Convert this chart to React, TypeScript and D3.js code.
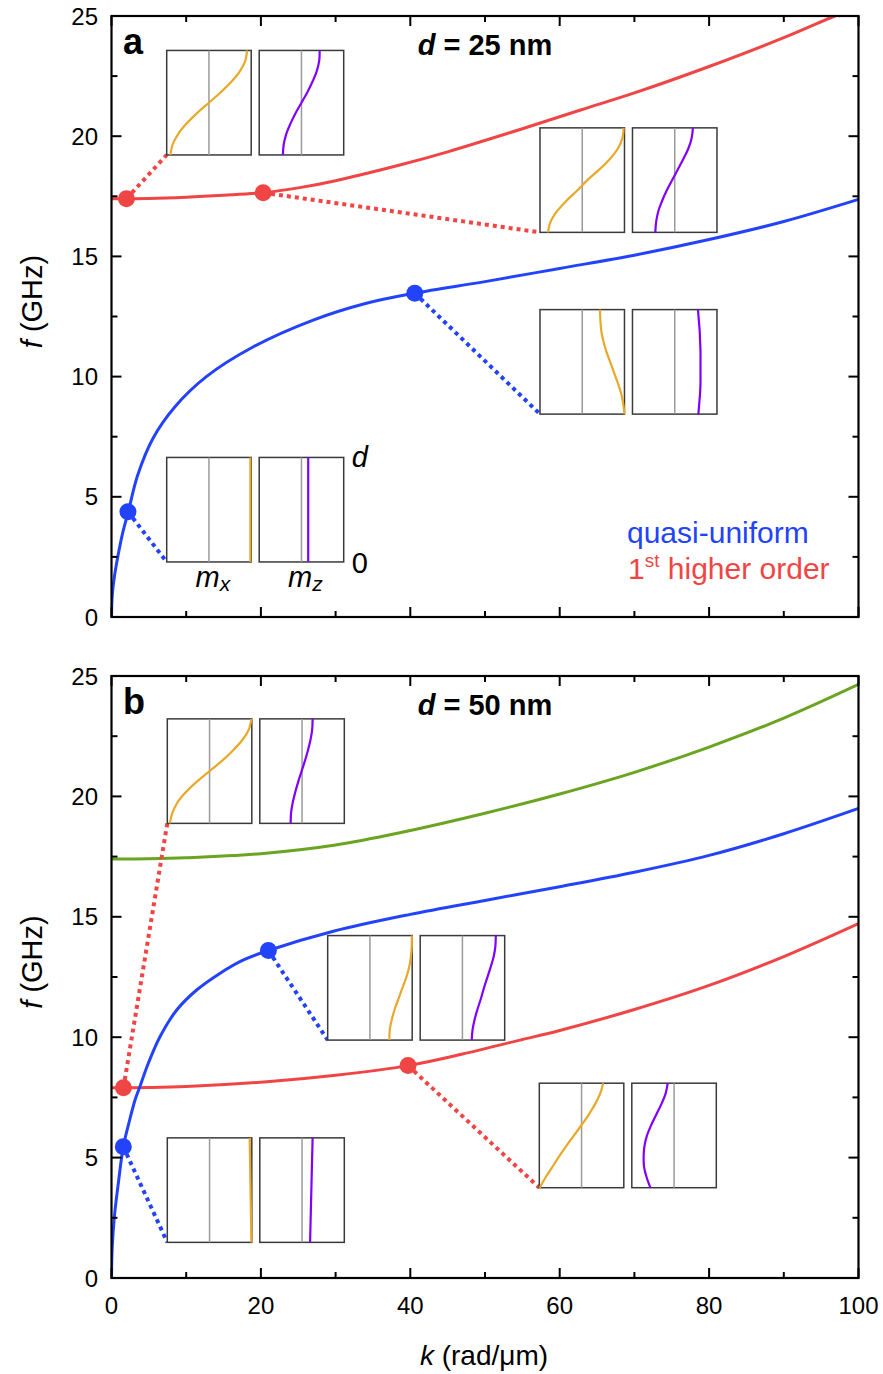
import React from 'react';
import * as d3 from 'd3';

const W = 883;
const H = 1374;

// ---------- data: panel a (d = 25 nm) ----------
const kBlueA = [0, 0.1, 0.4, 0.9, 1.5, 2.25, 3.5, 5.6, 8.5, 12.7, 19, 27, 34, 40.6, 50, 60, 70, 80, 90, 100];
const fBlueA = [0, 0.9, 1.7, 2.6, 3.5, 4.38, 5.9, 7.46, 8.75, 10.0, 11.24, 12.35, 13.04, 13.47, 13.95, 14.5, 15.05, 15.7, 16.45, 17.37];
const kRedA = [0, 5, 10, 15, 20.3, 25, 30, 38.6, 45, 54.7, 62.9, 70, 80, 90, 96.8, 100];
const fRedA = [17.4, 17.41, 17.46, 17.54, 17.65, 17.85, 18.15, 18.8, 19.35, 20.28, 21.1, 21.8, 22.9, 24.1, 25.0, 25.4];

// ---------- data: panel b (d = 50 nm) ----------
const kBlueB = [0, 0.1, 0.4, 0.9, 1.58, 2.3, 3.15, 3.72, 4.93, 6.49, 8.73, 11.4, 14.5, 17.6, 21, 29.7, 40, 50, 60, 70, 80, 90, 100];
const fBlueB = [0, 1.3, 2.6, 3.9, 5.45, 6.4, 7.39, 7.88, 8.92, 10.02, 11.13, 11.96, 12.65, 13.2, 13.6, 14.4, 15.1, 15.68, 16.25, 16.85, 17.55, 18.45, 19.5];
const kRedB = [0, 5, 10, 20.8, 30, 39.7, 47, 54.7, 60, 70, 80, 90, 100];
const fRedB = [7.9, 7.91, 7.95, 8.15, 8.42, 8.82, 9.3, 9.88, 10.28, 11.15, 12.15, 13.35, 14.72];
const kGreenB = [0, 5, 10, 20, 30, 38.6, 50, 60, 70, 80, 90, 100];
const fGreenB = [17.4, 17.41, 17.45, 17.62, 17.98, 18.49, 19.3, 20.1, 21.0, 22.05, 23.25, 24.65];

// marked points (k, f)
const markKA = [2.0, 20.3, 2.2, 40.6];
const markFA = [17.4, 17.65, 4.38, 13.47];
const markKB = [1.6, 39.7, 1.58, 21];
const markFB = [7.9, 8.82, 5.45, 13.6];

// mode profiles, sampled at z/d = 0, 0.1, ..., 1 (values relative to box half-width)
const zLevels = [0, 0.1, 0.2, 0.3, 0.4, 0.5, 0.6, 0.7, 0.8, 0.9, 1.0];
const mxA1 = [-0.91, -0.86, -0.73, -0.53, -0.28, 0.0, 0.28, 0.53, 0.73, 0.86, 0.9];
const mzA1 = [-0.44, -0.42, -0.36, -0.26, -0.14, 0.0, 0.14, 0.26, 0.36, 0.42, 0.43];
const mxA2 = [-0.81, -0.75, -0.6, -0.38, -0.12, 0.12, 0.4, 0.65, 0.84, 0.95, 0.98];
const mzA2 = [-0.46, -0.44, -0.39, -0.3, -0.19, -0.06, 0.07, 0.2, 0.32, 0.4, 0.43];
const mxA3 = [1.0, 0.97, 0.92, 0.84, 0.75, 0.66, 0.57, 0.5, 0.45, 0.43, 0.42];
const mzA3 = [0.56, 0.58, 0.6, 0.61, 0.61, 0.61, 0.61, 0.6, 0.59, 0.57, 0.55];
const mxA4 = [0.98, 0.98, 0.98, 0.98, 0.98, 0.98, 0.98, 0.98, 0.98, 0.98, 0.98];
const mzA4 = [0.16, 0.16, 0.16, 0.16, 0.16, 0.16, 0.16, 0.16, 0.16, 0.16, 0.16];
const mxB1 = [-0.94, -0.88, -0.76, -0.56, -0.3, 0.0, 0.3, 0.56, 0.78, 0.93, 0.99];
const mzB1 = [-0.27, -0.26, -0.22, -0.16, -0.09, -0.01, 0.07, 0.14, 0.2, 0.24, 0.25];
const mxB2 = [0.46, 0.47, 0.52, 0.59, 0.68, 0.77, 0.86, 0.93, 0.97, 0.99, 0.99];
const mzB2 = [0.22, 0.24, 0.29, 0.36, 0.44, 0.51, 0.59, 0.67, 0.74, 0.78, 0.79];
const mxB3 = [-0.99, -0.85, -0.69, -0.53, -0.36, -0.18, 0.0, 0.17, 0.32, 0.44, 0.51];
const mzB3 = [-0.56, -0.65, -0.71, -0.72, -0.7, -0.64, -0.54, -0.42, -0.3, -0.2, -0.15];
const mxB4 = [0.99, 0.986, 0.982, 0.978, 0.974, 0.97, 0.966, 0.962, 0.958, 0.954, 0.95];
const mzB4 = [0.19, 0.196, 0.202, 0.208, 0.214, 0.22, 0.226, 0.232, 0.238, 0.244, 0.25];

// axis ticks
const xMajor = [0, 20, 40, 60, 80, 100];
const xMinor = [10, 30, 50, 70, 90];
const yMajor = [0, 5, 10, 15, 20, 25];
const yMinor = [2.5, 7.5, 12.5, 17.5, 22.5];

// ---------- styles / layout ----------
const BLUE = '#2343fb';
const RED = '#f04545';
const GREEN = '#6aa420';
const ORANGE = '#e8a92a';
const PURPLE = '#8000ff';
const FONT = '"Liberation Sans", Arial, Helvetica, sans-serif';

const X0 = 111.5;
const X1 = 858.5;
const panels = [
  { top: 16, bottom: 617, label: 'a', d: '25' },
  { top: 676, bottom: 1278, label: 'b', d: '50' },
];

const insetBoxW = 84.5;
const insetBoxH = 104.5;
const insetGap = 8;

const zip = (ks: number[], fs: number[]) => ks.map((k, i) => [k, fs[i]] as [number, number]);

function Axes({ x, y, showXLabels }: { x: any; y: any; showXLabels: boolean }) {
  const [yb, yt] = y.range();
  const maj = 10;
  const min = 6;
  const tk = { stroke: '#000', strokeWidth: 2 };
  return (
    <g>
      {xMajor.map((v) => (
        <g key={'xM' + v}>
          <line x1={x(v)} x2={x(v)} y1={yb} y2={yb - maj} {...tk} />
          <line x1={x(v)} x2={x(v)} y1={yt} y2={yt + maj} {...tk} />
        </g>
      ))}
      {xMinor.map((v) => (
        <g key={'xm' + v}>
          <line x1={x(v)} x2={x(v)} y1={yb} y2={yb - min} {...tk} />
          <line x1={x(v)} x2={x(v)} y1={yt} y2={yt + min} {...tk} />
        </g>
      ))}
      {yMajor.map((v) => (
        <g key={'yM' + v}>
          <line x1={X0} x2={X0 + maj} y1={y(v)} y2={y(v)} {...tk} />
          <line x1={X1} x2={X1 - maj} y1={y(v)} y2={y(v)} {...tk} />
          <text x={98} y={y(v) + 8.5} textAnchor="end" fontSize={24} fontFamily={FONT}>
            {v}
          </text>
        </g>
      ))}
      {yMinor.map((v) => (
        <g key={'ym' + v}>
          <line x1={X0} x2={X0 + min} y1={y(v)} y2={y(v)} {...tk} />
          <line x1={X1} x2={X1 - min} y1={y(v)} y2={y(v)} {...tk} />
        </g>
      ))}
      <rect x={X0} y={yt} width={X1 - X0} height={yb - yt} fill="none" stroke="#000" strokeWidth={2.2} />
      {showXLabels &&
        xMajor.map((v) => (
          <text key={'xl' + v} x={x(v)} y={yb + 36} textAnchor="middle" fontSize={24} fontFamily={FONT}>
            {v}
          </text>
        ))}
      <text
        transform={`translate(42, ${(yb + yt) / 2 - 15}) rotate(-90)`}
        textAnchor="middle"
        fontSize={29}
        fontFamily={FONT}
      >
        <tspan fontStyle="italic">f</tspan> (GHz)
      </text>
    </g>
  );
}

function Inset({ x, y, k, f, mx, mz }: { x: any; y: any; k: number; f: number; mx: number[]; mz: number[] }) {
  const bx = x(k);
  const by = y(f);
  const boxes = [
    { left: bx, prof: mx, color: ORANGE },
    { left: bx + insetBoxW + insetGap, prof: mz, color: PURPLE },
  ];
  return (
    <g>
      {boxes.map((b, i) => {
        const sx = d3.scaleLinear().domain([-1, 1]).range([b.left, b.left + insetBoxW]);
        const sz = d3.scaleLinear().domain([0, 1]).range([by, by - insetBoxH]);
        const line = d3
          .line<number>()
          .x((v) => sx(v))
          .y((_, j) => sz(zLevels[j]))
          .curve(d3.curveCatmullRom);
        return (
          <g key={i}>
            <rect x={b.left} y={by - insetBoxH} width={insetBoxW} height={insetBoxH} fill="#fff" stroke="#3a3a3a" strokeWidth={1.5} />
            <line x1={sx(0)} x2={sx(0)} y1={by} y2={by - insetBoxH} stroke="#9a9a9a" strokeWidth={1.5} />
            <path d={line(b.prof) || ''} fill="none" stroke={b.color} strokeWidth={2.2} />
          </g>
        );
      })}
    </g>
  );
}

export default function App() {
  const x = d3.scaleLinear().domain([0, 100]).range([X0, X1]);
  const ya = d3.scaleLinear().domain([0, 25]).range([panels[0].bottom, panels[0].top]);
  const yb = d3.scaleLinear().domain([0, 25]).range([panels[1].bottom, panels[1].top]);

  const mkLine = (yS: any) =>
    d3
      .line<[number, number]>()
      .x((d) => x(d[0]))
      .y((d) => yS(d[1]))
      .curve(d3.curveCatmullRom.alpha(0.5));

  const la = mkLine(ya);
  const lb = mkLine(yb);

  const insetsA = [
    { at: [7.39, 19.22], mx: mxA1, mz: mzA1, mi: 0, color: RED },
    { at: [57.36, 16.0], mx: mxA2, mz: mzA2, mi: 1, color: RED },
    { at: [7.39, 2.29], mx: mxA4, mz: mzA4, mi: 2, color: BLUE },
    { at: [57.36, 8.44], mx: mxA3, mz: mzA3, mi: 3, color: BLUE },
  ];
  const insetsB = [
    { at: [7.47, 18.88], mx: mxB1, mz: mzB1, mi: 0, color: RED },
    { at: [57.27, 3.75], mx: mxB3, mz: mzB3, mi: 1, color: RED },
    { at: [7.47, 1.48], mx: mxB4, mz: mzB4, mi: 2, color: BLUE },
    { at: [28.94, 9.88], mx: mxB2, mz: mzB2, mi: 3, color: BLUE },
  ];

  const renderPanel = (
    yS: any,
    lines: { d: [number, number][]; color: string }[],
    mk: number[],
    mf: number[],
    insets: any[],
    idx: number
  ) => {
    const p = panels[idx];
    const clipId = 'clip' + idx;
    return (
      <g key={idx}>
        <defs>
          <clipPath id={clipId}>
            <rect x={X0} y={p.top} width={X1 - X0} height={p.bottom - p.top} />
          </clipPath>
        </defs>
        <g clipPath={`url(#${clipId})`}>
          {lines.map((l, i) => (
            <path key={i} d={(idx === 0 ? la : lb)(l.d) || ''} fill="none" stroke={l.color} strokeWidth={3} />
          ))}
        </g>
        {insets.map((ins, i) => (
          <line
            key={'c' + i}
            x1={x(mk[ins.mi])}
            y1={yS(mf[ins.mi])}
            x2={x(ins.at[0])}
            y2={yS(ins.at[1])}
            stroke={ins.color}
            strokeWidth={4}
            strokeDasharray="4 4"
          />
        ))}
        {insets.map((ins, i) => (
          <Inset key={'i' + i} x={x} y={yS} k={ins.at[0]} f={ins.at[1]} mx={ins.mx} mz={ins.mz} />
        ))}
        {insets.map((ins, i) => (
          <circle key={'m' + i} cx={x(mk[ins.mi])} cy={yS(mf[ins.mi])} r={8.5} fill={ins.color} />
        ))}
        <Axes x={x} y={yS} showXLabels={idx === 1} />
        <text x={123} y={p.top + 38} fontSize={36} fontWeight="bold" fontFamily={FONT}>
          {p.label}
        </text>
        <text x={485} y={p.top + 39} textAnchor="middle" fontSize={29} fontWeight="bold" fontFamily={FONT}>
          <tspan fontStyle="italic">d</tspan> = {p.d} nm
        </text>
      </g>
    );
  };

  const a4x = x(7.39) + 2 * insetBoxW + insetGap;
  return (
    <svg width={W} height={H} style={{ position: 'absolute', left: 0, top: 0, background: '#fff' }}>
      <rect width={W} height={H} fill="#fff" />
      {renderPanel(
        ya,
        [
          { d: zip(kRedA, fRedA), color: RED },
          { d: zip(kBlueA, fBlueA), color: BLUE },
        ],
        markKA,
        markFA,
        insetsA,
        0
      )}
      {renderPanel(
        yb,
        [
          { d: zip(kGreenB, fGreenB), color: GREEN },
          { d: zip(kRedB, fRedB), color: RED },
          { d: zip(kBlueB, fBlueB), color: BLUE },
        ],
        markKB,
        markFB,
        insetsB,
        1
      )}
      <text x={a4x + 8} y={ya(2.29) - insetBoxH + 10} fontSize={29} fontStyle="italic" fontFamily={FONT}>
        d
      </text>
      <text x={a4x + 8} y={ya(2.29) + 11} fontSize={29} fontFamily={FONT}>
        0
      </text>
      <text x={x(7.39) + insetBoxW / 2 + 4} y={ya(2.29) + 25} textAnchor="middle" fontSize={29} fontFamily={FONT}>
        <tspan fontStyle="italic">m</tspan>
        <tspan fontStyle="italic" fontSize={21} dy={4}>x</tspan>
      </text>
      <text
        x={x(7.39) + insetBoxW * 1.5 + insetGap + 4}
        y={ya(2.29) + 25}
        textAnchor="middle"
        fontSize={29}
        fontFamily={FONT}
      >
        <tspan fontStyle="italic">m</tspan>
        <tspan fontStyle="italic" fontSize={21} dy={4}>z</tspan>
      </text>
      <text x={627} y={543} fontSize={30} fill={BLUE} fontFamily={FONT}>
        quasi-uniform
      </text>
      <text x={628} y={579} fontSize={30} fill={RED} fontFamily={FONT}>
        1<tspan fontSize={19} dy={-12}>st</tspan>
        <tspan dy={12}> higher order</tspan>
      </text>
      <text x={484} y={1365} textAnchor="middle" fontSize={28} fontFamily={FONT}>
        <tspan fontStyle="italic">k</tspan> (rad/μm)
      </text>
    </svg>
  );
}
